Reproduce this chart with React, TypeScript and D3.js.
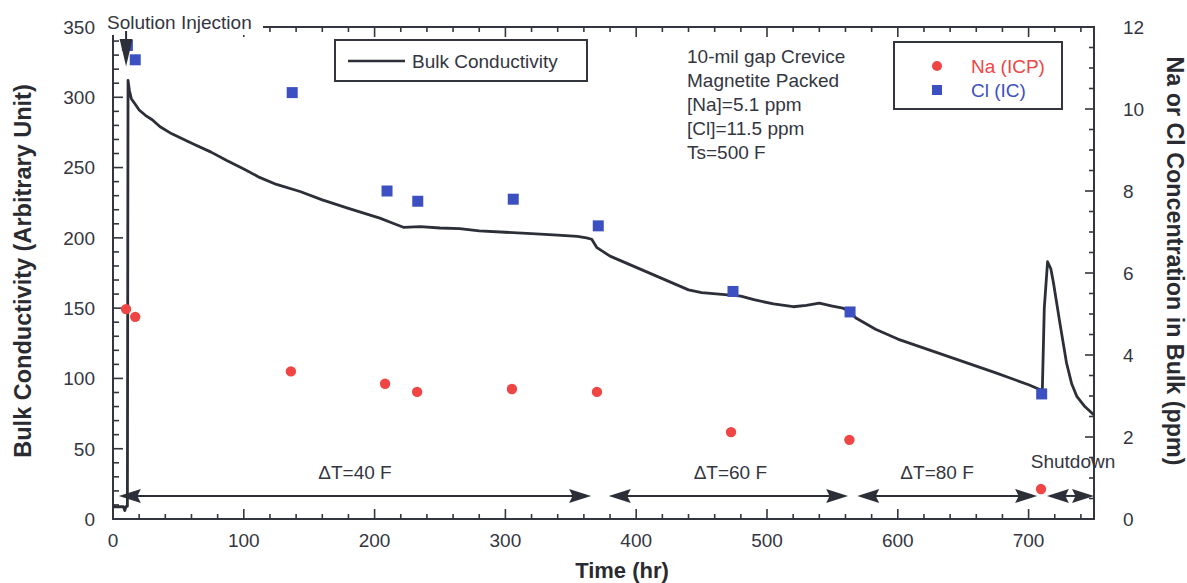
import React from 'react';
import * as d3 from 'd3';

const W = 1187;
const H = 583;

// Axis ticks
const timeMajor = [0, 100, 200, 300, 400, 500, 600, 700];
const condMajor = [0, 50, 100, 150, 200, 250, 300, 350];
const concMajor = [0, 2, 4, 6, 8, 10, 12];

// Bulk conductivity trace (time in hr, arbitrary units)
const bulkTime = [
  0, 1, 8, 9, 10, 11, 11.5, 12.5, 14, 17, 20, 25, 30, 36, 45, 61, 75, 87, 100, 112, 125, 143,
  160, 180, 204, 215, 222, 235, 250, 265, 280, 300, 320, 340, 355, 362, 366, 370, 375, 380,
  400, 420, 440, 450, 470, 480, 490, 505, 520, 530, 540, 550, 558, 563, 568, 583, 600, 625,
  650, 675, 700, 709, 710.5, 712, 714.5, 717, 719, 724, 729, 733, 737, 743, 750,
];
const bulkValue = [
  10, 8.7, 8.7, 6, 9, 9, 312, 305, 299, 295, 291, 287, 284, 279, 274, 267, 261, 255, 249, 243, 238, 233,
  227, 221, 214, 210, 207.5, 208, 207, 206.5, 205, 204, 203, 202, 201, 200, 199, 193, 190, 187,
  179, 171, 163, 161, 159.5, 158.5, 156, 153, 151, 152, 153.5, 151.5, 150, 148, 143, 135, 128, 120,
  112, 104, 95.5, 92, 92, 150, 183, 178, 168, 139, 111, 96, 87, 80, 74,
];

// Sampled bulk chemistry (ppm)
const naTime = [10, 17, 136, 208, 232.5, 305, 370, 472.5, 563, 709.5];
const naConc = [5.12, 4.93, 3.6, 3.3, 3.1, 3.17, 3.1, 2.12, 1.93, 0.73];
const clTime = [11, 17, 137, 209.5, 233, 306, 371, 474, 563.5, 710];
const clConc = [11.55, 11.2, 10.4, 8.0, 7.75, 7.8, 7.15, 5.55, 5.05, 3.05];

// Test phases
const phaseLabel = ['\u0394T=40 F', '\u0394T=60 F', '\u0394T=80 F', ''];
const phaseStart = [4.5, 379, 569, 714];
const phaseEnd = [365.5, 562, 706.5, 750];
const phaseLabelAt = [185, 472, 630, 0];

const infoLines = ['10-mil gap Crevice', 'Magnetite Packed', '[Na]=5.1 ppm', '[Cl]=11.5 ppm', 'Ts=500 F'];

const FONT = '"Liberation Sans", Arial, Helvetica, sans-serif';
const INK = '#34363f';
const DARK = '#2c2f37';
const RED = '#ef4545';
const BLUE = '#3d50c2';

const plot = { left: 113, right: 1094, top: 27, bottom: 519 };

const x = d3.scaleLinear().domain([0, 750]).range([plot.left, plot.right]);
const yL = d3.scaleLinear().domain([0, 350]).range([plot.bottom, plot.top]);
const yR = d3.scaleLinear().domain([0, 12]).range([plot.bottom, plot.top]);

function arrowHead(tipX: number, tipY: number, dir: number, len = 22, half = 7, notch = 3.5) {
  // dir = 1 points right, -1 points left
  const bx = tipX - dir * len;
  return `M${tipX},${tipY} L${bx},${tipY - half} L${bx + dir * notch},${tipY} L${bx},${tipY + half} Z`;
}

export default function App() {
  const line = d3
    .line<number>()
    .x((_, i) => x(bulkTime[i]))
    .y((v) => yL(v));
  const bulkPath = line(bulkValue) || '';

  const minorTime = d3.range(0, 751, 20).filter((t) => t % 100 !== 0);
  const minorCond = d3.range(0, 351, 10).filter((v) => v % 50 !== 0);
  const minorConc = d3.range(0, 12.01, 0.5).filter((v) => Math.abs(v % 2) > 1e-6);

  const arrowY = yL(16.4);
  const injX = x(10);

  return (
    <svg
      width={W}
      height={H}
      style={{ position: 'absolute', left: 0, top: 0, background: '#fff' }}
      fontFamily={FONT}
    >
      {/* plot frame */}
      <rect
        x={plot.left}
        y={plot.top}
        width={plot.right - plot.left}
        height={plot.bottom - plot.top}
        fill="none"
        stroke={INK}
        strokeWidth={2}
      />

      {/* bottom and top ticks */}
      {timeMajor.map((t) => (
        <g key={'tM' + t}>
          <line x1={x(t)} x2={x(t)} y1={plot.bottom} y2={plot.bottom - 10} stroke={INK} strokeWidth={1.6} />
          <line x1={x(t)} x2={x(t)} y1={plot.top} y2={plot.top + 10} stroke={INK} strokeWidth={1.6} />
          <text x={x(t)} y={547} textAnchor="middle" fontSize={19} fill={INK}>
            {t}
          </text>
        </g>
      ))}
      {minorTime.map((t) => (
        <g key={'tm' + t}>
          <line x1={x(t)} x2={x(t)} y1={plot.bottom} y2={plot.bottom - 5} stroke={INK} strokeWidth={1.6} />
          <line x1={x(t)} x2={x(t)} y1={plot.top} y2={plot.top + 5} stroke={INK} strokeWidth={1.6} />
        </g>
      ))}

      {/* left axis */}
      {condMajor.map((v) => (
        <g key={'cM' + v}>
          <line x1={plot.left} x2={plot.left + 10} y1={yL(v)} y2={yL(v)} stroke={INK} strokeWidth={1.6} />
          <text x={95} y={yL(v)} dy="0.36em" textAnchor="end" fontSize={19} fill={INK}>
            {v}
          </text>
        </g>
      ))}
      {minorCond.map((v) => (
        <line key={'cm' + v} x1={plot.left} x2={plot.left + 6} y1={yL(v)} y2={yL(v)} stroke={INK} strokeWidth={1.6} />
      ))}

      {/* right axis */}
      {concMajor.map((v) => (
        <g key={'rM' + v}>
          <line x1={plot.right} x2={plot.right - 9} y1={yR(v)} y2={yR(v)} stroke={INK} strokeWidth={1.6} />
          <text x={1123} y={yR(v)} dy="0.36em" textAnchor="start" fontSize={19} fill={INK}>
            {v}
          </text>
        </g>
      ))}
      {minorConc.map((v) => (
        <line key={'rm' + v} x1={plot.right} x2={plot.right - 5} y1={yR(v)} y2={yR(v)} stroke={INK} strokeWidth={1.6} />
      ))}

      {/* axis titles */}
      <text x={622} y={578} textAnchor="middle" fontSize={22} fontWeight="bold" fill="#2a2b31">
        Time (hr)
      </text>
      <text
        transform={`translate(31,271) rotate(-90)`}
        textAnchor="middle"
        fontSize={23.5}
        fontWeight="bold"
        fill="#2a2b31"
      >
        Bulk Conductivity (Arbitrary Unit)
      </text>
      <text
        transform={`translate(1167,261) rotate(90)`}
        textAnchor="middle"
        fontSize={23.3}
        fontWeight="bold"
        fill="#2a2b31"
      >
        Na or Cl Concentration in Bulk (ppm)
      </text>

      {/* bulk conductivity trace */}
      <path d={bulkPath} fill="none" stroke={DARK} strokeWidth={2.8} strokeLinejoin="round" />

      {/* sampled concentrations */}
      {clTime.map((t, i) => (
        <rect key={'cl' + i} x={x(t) - 5.5} y={yR(clConc[i]) - 5.5} width={11} height={11} fill={BLUE} />
      ))}
      {naTime.map((t, i) => (
        <circle key={'na' + i} cx={x(t)} cy={yR(naConc[i])} r={5.2} fill={RED} />
      ))}

      {/* phase arrows */}
      {phaseStart.map((s, i) => {
        const x0 = x(s);
        const x1 = x(phaseEnd[i]);
        return (
          <g key={'ph' + i}>
            <line x1={x0 + 10} x2={x1 - 10} y1={arrowY} y2={arrowY} stroke={DARK} strokeWidth={2} />
            <path d={arrowHead(x0, arrowY, -1)} fill={DARK} />
            <path d={arrowHead(x1, arrowY, 1)} fill={DARK} />
            {phaseLabel[i] && (
              <text x={x(phaseLabelAt[i])} y={479} textAnchor="middle" fontSize={19} fill={INK}>
                {phaseLabel[i]}
              </text>
            )}
          </g>
        );
      })}
      <text x={1073} y={468} textAnchor="middle" fontSize={19} fill={INK}>
        Shutdown
      </text>

      {/* injection marker */}
      <rect x={104} y={9} width={159} height={26} fill="#fff" />
      <text x={107} y={29} fontSize={19} fill={INK}>
        Solution Injection
      </text>
      <line x1={injX} x2={injX} y1={31} y2={44} stroke={DARK} strokeWidth={2} />
      <path d={`M${injX},${yL(322)} L${injX - 6.5},${39} L${injX + 6.5},${39} Z`} fill={DARK} />

      {/* legend: trace */}
      <rect x={335} y={40} width={252} height={41} fill="#fff" stroke={INK} strokeWidth={2} />
      <line x1={348} x2={405} y1={61} y2={61} stroke={DARK} strokeWidth={2.4} />
      <text x={412} y={68} fontSize={19} fill={INK}>
        Bulk Conductivity
      </text>

      {/* test conditions */}
      {infoLines.map((s, i) => (
        <text key={'inf' + i} x={687} y={63 + i * 24} fontSize={19} fill={INK}>
          {s}
        </text>
      ))}

      {/* legend: chemistry */}
      <rect x={894} y={42} width={168} height={67} fill="#fff" stroke={INK} strokeWidth={2} />
      <circle cx={937} cy={66} r={5} fill={RED} />
      <text x={971} y={73} fontSize={19} fill={RED}>
        Na (ICP)
      </text>
      <rect x={932} y={85} width={10} height={10} fill={BLUE} />
      <text x={971} y={97} fontSize={19} fill={BLUE}>
        Cl (IC)
      </text>
    </svg>
  );
}
